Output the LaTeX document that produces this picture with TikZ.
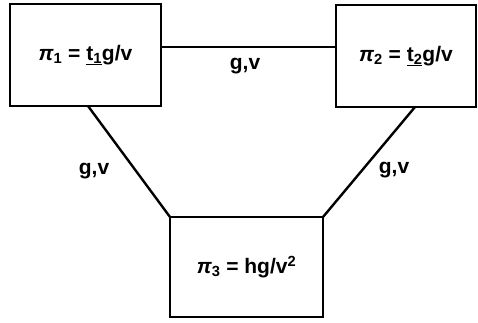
\documentclass[tikz,border=0pt]{standalone}
\usepackage{fontspec}
\setmainfont{Liberation Sans}
\begin{document}
\begin{tikzpicture}[x=1pt,y=-1pt,
  box/.style={draw,line width=2.8pt,minimum width=#1},
  lbl/.style={font=\fontsize{21}{24}\selectfont\bfseries},
  conn/.style={line width=2.4pt}]
\useasboundingbox (0,0) rectangle (478,323);
\node[box=151pt,minimum height=102pt,lbl] (p1) at (85.5,55) {{\itshape π}\textsubscript{1} = \underline{t\textsubscript{1}}g/v};
\node[box=140pt,minimum height=102pt,lbl] (p2) at (406,56) {{\itshape π}\textsubscript{2} = \underline{t\textsubscript{2}}g/v};
\node[box=153pt,minimum height=100pt,lbl] (p3) at (246.5,267) {{\itshape π}\textsubscript{3} = hg/v\textsuperscript{2}};
\coordinate (a1) at (88,106);
\coordinate (b1) at (170,217);
\coordinate (a2) at (415,107);
\coordinate (b2) at (323,217);
\draw[conn] (p1.east |- 0,47) -- (p2.west |- 0,47);
\draw[conn] (a1) -- (b1);
\draw[conn] (a2) -- (b2);
\node[lbl] (l1) at (245,66) {g,v};
\node[lbl] (l2) at (94,171) {g,v};
\node[lbl] (l3) at (394,170) {g,v};
\end{tikzpicture}
\end{document}
